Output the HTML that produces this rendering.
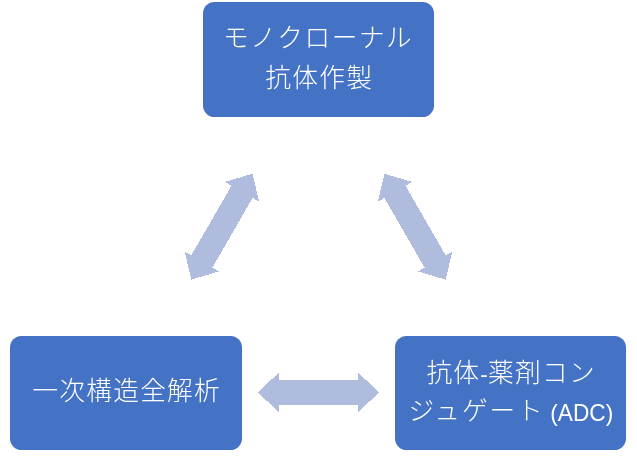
<!DOCTYPE html>
<html lang="ja">
<head>
<meta charset="utf-8">
<title>diagram</title>
<style>
  html, body { margin: 0; padding: 0; background: #ffffff; }
  body { width: 637px; height: 457px; position: relative; overflow: hidden;
    font-family: "Liberation Sans", "Noto Sans CJK JP", sans-serif; }
  .box { position: absolute; background: #4472c4; border-radius: 11.5px; color: #ffffff;
    box-sizing: border-box; }
  #b1 { left: 203px; top: 2px; width: 231px; height: 115px; }
  #b2 { left: 395px; top: 336px; width: 231px; height: 114px; }
  #b3 { left: 10px; top: 336px; width: 232px; height: 114px; }
  .ln { position: absolute; left: 0; width: 100%; height: 38px; line-height: 38px;
    text-align: center; white-space: nowrap; font-size: 25.7px; letter-spacing: 1.3px;
    font-weight: 300; will-change: transform; text-indent: 1.3px; }
  .lat { font-family: "Liberation Sans", sans-serif; font-size: 22.8px; font-weight: 400; letter-spacing: 0; }
  .adc { display: inline-block; font-size: 24px; transform: translateY(0.5px) scaleX(0.945); transform-origin: 0 50%; margin-right: -3.5px; margin-left: -0.8px; line-height: 1; }
  svg { position: absolute; left: 0; top: 0; }
</style>
</head>
<body>
<svg width="637" height="457" viewBox="0 0 637 457">
  <g fill="#b0bcde" shape-rendering="crispEdges">
    <path d="M-60.6,0 L-39.7,-19.8 L-39.7,-12.2 L39.7,-12.2 L39.7,-19.8 L60.6,0 L39.7,19.8 L39.7,12.2 L-39.7,12.2 L-39.7,19.8 Z" transform="translate(318.5,392.4)"/>
    <path d="M-61.7,0 L-40.8,-19.8 L-40.8,-12.2 L39.7,-12.2 L39.7,-19.8 L60.6,0 L39.7,19.8 L39.7,12.2 L-40.8,12.2 L-40.8,19.8 Z" transform="translate(222.2,226.2) rotate(-60)"/>
    <path d="M-61.7,0 L-40.8,-19.8 L-40.8,-12.2 L39.7,-12.2 L39.7,-19.8 L60.6,0 L39.7,19.8 L39.7,12.2 L-40.8,12.2 L-40.8,19.8 Z" transform="translate(414.8,226.2) rotate(-120)"/>
  </g>
</svg>
<div class="box" id="b1">
  <div class="ln" style="top:17px;left:-1px;letter-spacing:1.5px">モノクローナル</div>
  <div class="ln" style="top:57px">抗体作製</div>
</div>
<div class="box" id="b2">
  <div class="ln" style="top:18px">抗体<span class="lat">-</span>薬剤コン</div>
  <div class="ln" style="top:56px;word-spacing:-3px"><span style="letter-spacing:1.9px">ジュゲート</span> <span class="lat adc">(ADC)</span></div>
</div>
<div class="box" id="b3">
  <div class="ln" style="top:36px">一次構造全解析</div>
</div>
</body>
</html>
